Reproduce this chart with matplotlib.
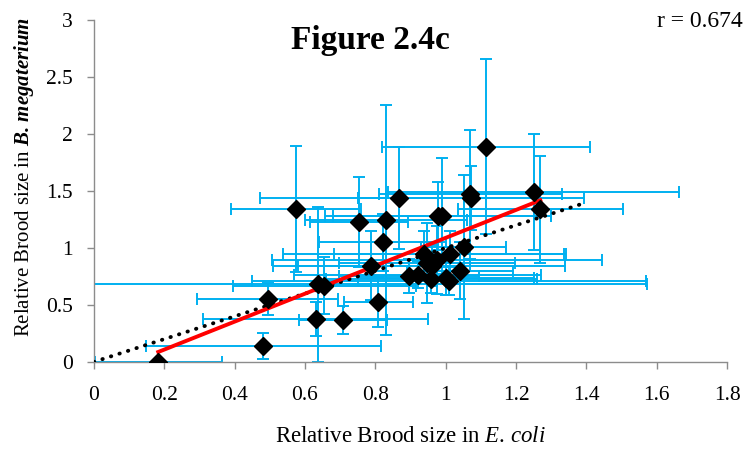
import numpy as np
import matplotlib
matplotlib.use("Agg")
import matplotlib.pyplot as plt

plt.rcParams['font.family'] = ['Liberation Serif', 'DejaVu Serif']
plt.rcParams['mathtext.fontset'] = 'custom'
plt.rcParams['mathtext.rm'] = 'Liberation Serif'
plt.rcParams['mathtext.it'] = 'Liberation Serif:italic'
plt.rcParams['mathtext.bf'] = 'Liberation Serif:bold:italic'

# Relative brood size in E. coli (x) and B. megaterium (y) with error bars
ecoli = [0.183, 0.482, 0.494, 0.575, 0.630, 0.636, 0.655, 0.709, 0.753, 0.788,
         0.809, 0.821, 0.830, 0.868, 0.896, 0.920, 0.937, 0.946, 0.960, 0.959,
         0.975, 0.978, 0.989, 1.000, 1.010, 1.013, 1.041, 1.051, 1.070, 1.072,
         1.115, 1.250, 1.269]
bmeg = [0.00, 0.143, 0.55, 1.34, 0.375, 0.68, 0.67, 0.368, 1.225, 0.845,
        0.524, 1.05, 1.245, 1.44, 0.757, 0.766, 0.945, 0.866, 0.845, 0.725,
        0.895, 1.283, 1.283, 0.734, 0.71, 0.945, 0.80, 1.01, 1.47, 1.44,
        1.89, 1.49, 1.34]
ecoli_err = [0.18, 0.335, 0.20, 0.185, 0.32, 0.936, 0.26, 0.125, 0.14, 0.28,
             0.098, 0.18, 0.23, 0.396, 0.20, 0.35, 0.40, 0.25, 0.38, 0.30,
             0.47, 0.32, 0.31, 0.25, 0.56, 0.33, 0.15, 0.12, 0.26, 0.32,
             0.296, 0.414, 0.234]
bmeg_err = [0.02, 0.115, 0.14, 0.555, 0.15, 0.68, 0.25, 0.12, 0.395, 0.30,
            0.22, 0.25, 1.01, 0.45, 0.15, 0.12, 0.20, 0.35, 0.18, 0.12,
            0.30, 0.30, 0.51, 0.15, 0.12, 0.20, 0.25, 0.63, 0.57, 0.28,
            0.77, 0.51, 0.47]

identity_x = [0.0, 1.39]
r_text = "r = 0.674"
title = "Figure 2.4c"
xticks = [0, 0.2, 0.4, 0.6, 0.8, 1, 1.2, 1.4, 1.6, 1.8]
xticklabels = ["0", "0.2", "0.4", "0.6", "0.8", "1", "1.2", "1.4", "1.6", "1.8"]
yticks = [0, 0.5, 1, 1.5, 2, 2.5, 3]
yticklabels = ["0", "0.5", "1", "1.5", "2", "2.5", "3"]

fig = plt.figure(figsize=(7.45, 4.49), dpi=100)
ax = fig.add_axes([0.126, 0.194, 0.85, 0.761])

x = np.array(ecoli)
y = np.array(bmeg)

ax.errorbar(x, y, xerr=ecoli_err, yerr=bmeg_err, fmt='none',
            ecolor='#00B0F0', elinewidth=1.4, capsize=4.5, capthick=1.4, zorder=2)

# identity reference line
ax.plot(identity_x, identity_x, color='black', linestyle=(0, (0.1, 2.2)),
        linewidth=2.8, dash_capstyle='round', zorder=3)

# linear fit
slope, intercept = np.polyfit(x, y, 1)
fx = np.array([x.min(), x.max()])
ax.plot(fx, slope * fx + intercept, color='#FF0000', linewidth=2.8, zorder=4)

ax.plot(x, y, linestyle='none', marker='D', markersize=9.5,
        color='black', zorder=5)

ax.set_xlim(0, 1.8)
ax.set_ylim(0, 3)
ax.set_xticks(xticks)
ax.set_xticklabels(xticklabels, fontsize=15.5)
ax.set_yticks(yticks)
ax.set_yticklabels(yticklabels, fontsize=15.5)
for s in ['top', 'right']:
    ax.spines[s].set_visible(False)
for s in ['left', 'bottom']:
    ax.spines[s].set_color('#8c8c8c')
    ax.spines[s].set_linewidth(1.0)
ax.tick_params(axis='x', direction='out', length=5, color='#8c8c8c',
               width=1.0, pad=12)
ax.tick_params(axis='y', direction='out', length=5, color='#8c8c8c',
               width=1.0, pad=10)

ax.set_xlabel(r"Relative Brood size in $\mathit{E.}\,\mathit{coli}$", fontsize=16.5,
              va='center')
ax.xaxis.set_label_coords(0.5, -0.219)
ax.set_ylabel(r"Relative Brood size in $\mathbf{B.}\,\mathbf{megaterium}$",
              fontsize=15, va='center')
ax.yaxis.set_label_coords(-0.11, 0.54)

fig.text(0.497, 0.91, title, fontsize=24, fontweight='bold', ha='center',
         va='center')
fig.text(0.997, 0.953, r_text, fontsize=17, ha='right', va='center')

fig.savefig("out.png", dpi=100)
